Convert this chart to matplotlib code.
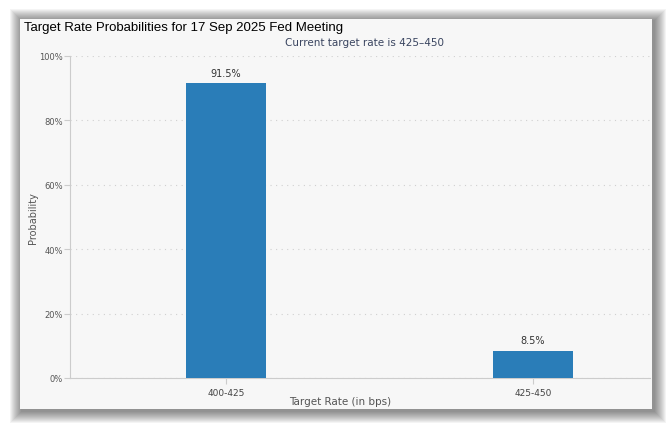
import matplotlib
matplotlib.use("Agg")
import matplotlib.pyplot as plt
from matplotlib.patches import Rectangle
from matplotlib.ticker import FuncFormatter

categories = ["400-425", "425-450"]
probabilities = [91.5, 8.5]
bar_labels = ["91.5%", "8.5%"]
yticks = [0, 20, 40, 60, 80, 100]

W, H = 668, 431
fig = plt.figure(figsize=(W / 100, H / 100), dpi=100)
fig.patch.set_facecolor("white")

def fx(px):
    return px / W

def fy(py):
    return 1 - py / H

# soft shadow + panel
px0, py0, px1, py1 = 20, 20, 652, 410
n = 12
for i in range(n):
    d = n - i
    r = Rectangle((fx(px0 - d + 2), fy(py1 + d + 2)), fx(px1 - px0 + 2 * d), (py1 - py0 + 2 * d) / H,
                  transform=fig.transFigure, facecolor="black", alpha=0.045, edgecolor="none", zorder=0)
    fig.patches.append(r)
panel = Rectangle((fx(px0), fy(py1)), fx(px1 - px0), (py1 - py0) / H,
                  transform=fig.transFigure, facecolor="#f7f7f7", edgecolor="none", zorder=1)
fig.patches.append(panel)

fig.text(fx(24), fy(28), "Target Rate Probabilities for 17 Sep 2025 Fed Meeting",
         fontsize=9.5, family="Liberation Sans", color="black", va="center", ha="left")
fig.text(fx(365), fy(43), "Current target rate is 425\u2013450",
         fontsize=7.5, color="#3a4560", va="center", ha="center")

ax_l, ax_r, ax_t, ax_b = 70, 650, 57, 379
ax = fig.add_axes([fx(ax_l), fy(ax_b), fx(ax_r - ax_l), (ax_b - ax_t) / H])
ax.set_facecolor("none")
ax.set_zorder(2)

x = list(range(len(categories)))
c0, c1 = 226, 533
step = c1 - c0
ax.bar(x, probabilities, width=80 / step, color="#2a7db8", zorder=3)
for xi, v, lab in zip(x, probabilities, bar_labels):
    ax.annotate(lab, (xi, v), xytext=(0, 4), textcoords="offset points",
                ha="center", va="bottom", fontsize=7, color="#333333")

ax.set_xlim((ax_l - c0) / step, (ax_r - c0) / step)
ax.set_ylim(0, 100)
ax.set_yticks(yticks)
ax.yaxis.set_major_formatter(FuncFormatter(lambda v, p: f"{int(v)}%"))
ax.set_xticks(x)
ax.set_xticklabels(categories)
ax.tick_params(axis="y", length=4, color="#cccccc", labelsize=6, labelcolor="#555555", pad=1)
ax.tick_params(axis="x", length=4, color="#cccccc", labelsize=6.5, labelcolor="#444444", pad=3)
ax.grid(axis="y", color="#d0d0d0", linestyle=(0, (1, 4)), linewidth=0.8)
for s in ["top", "right"]:
    ax.spines[s].set_visible(False)
ax.spines["left"].set_color("#cccccc")
ax.spines["bottom"].set_color("#cccccc")
ax.set_ylabel("Probability", fontsize=7, color="#555555")
ax.set_xlabel("Target Rate (in bps)", fontsize=7.5, color="#555555")
axw = ax_r - ax_l
axh = ax_b - ax_t
ax.yaxis.set_label_coords((33 - ax_l) / axw, 0.5)
ax.xaxis.set_label_coords((340 - ax_l) / axw, -(402 - ax_b) / axh)
ax.xaxis.label.set_va("center")
ax.yaxis.label.set_va("center")

fig.savefig("out.png", dpi=100, facecolor="white")
